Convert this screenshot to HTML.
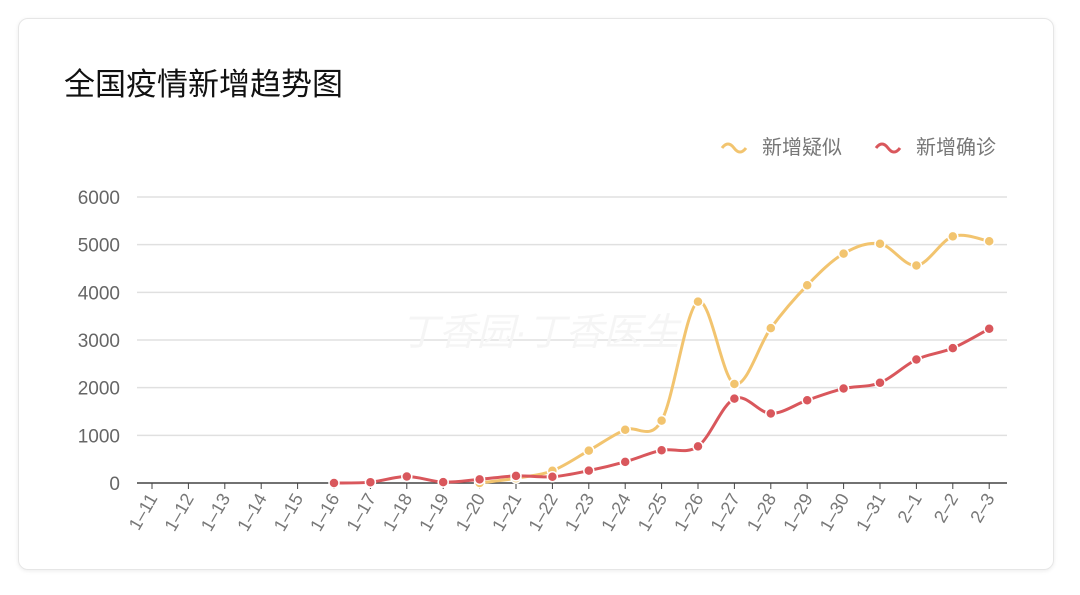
<!DOCTYPE html>
<html><head><meta charset="utf-8"><style>
body{margin:0;background:#fff;width:1080px;height:595px;overflow:hidden;font-family:"Liberation Sans","Noto Sans CJK SC",sans-serif}
.card{position:absolute;left:18px;top:18px;width:1034px;height:550px;border:1px solid #e6e6e6;border-radius:10px;box-shadow:0 1px 4px rgba(0,0,0,0.08)}
.title{position:absolute;left:64px;top:59px;font-size:31px;color:#111;font-family:"Liberation Sans","Noto Sans CJK SC",sans-serif}
svg{position:absolute;left:0;top:0}
</style></head><body>
<div class="card"></div>
<div class="title">全国疫情新增趋势图</div>
<svg id="s" width="1080" height="595" font-family="Liberation Sans, Noto Sans CJK SC, sans-serif"></svg>
<script>
const s=document.getElementById('s');let h='';
const y0=483,k=286/6000,x0=152,st=36.4;
for(let i=0;i<=6;i++){const y=y0-i*1000*k;
 if(i>0)h+=`<line x1="137" x2="1007" y1="${y}" y2="${y}" stroke="#e0e0e0" stroke-width="1.5"/>`;
 h+=`<text x="120" y="${y+7}" text-anchor="end" font-size="19" fill="#666">${i*1000}</text>`;}
h+=`<text x="540" y="345" text-anchor="middle" font-size="38" fill="#f5f5f5" font-style="italic">丁香园·丁香医生</text>`;
h+=`<line x1="137" x2="1007" y1="${y0}" y2="${y0}" stroke="#444" stroke-width="1.5"/>`;
const labs=[];for(let d=11;d<=31;d++)labs.push('1–'+d);labs.push('2–1','2–2','2–3');
labs.forEach((l,i)=>{const x=x0+i*st;
 h+=`<line x1="${x}" x2="${x}" y1="${y0}" y2="${y0+6}" stroke="#444"/>`;
 h+=`<text transform="translate(${x+6},${y0+15}) rotate(-60)" text-anchor="end" font-size="18" fill="#777">${l}</text>`;});
function path(start,d,c){const p=d.map((v,i)=>[x0+(start+i)*st,y0-v*k]);let q=`M${p[0][0]},${p[0][1]}`;
 for(let i=0;i<p.length-1;i++){const a=p[Math.max(i-1,0)],b=p[i],c2=p[i+1],e=p[Math.min(i+2,p.length-1)];
 q+=` C${b[0]+(c2[0]-a[0])/6},${b[1]+(c2[1]-a[1])/6} ${c2[0]-(e[0]-b[0])/6},${c2[1]-(e[1]-b[1])/6} ${c2[0]},${c2[1]}`;}
 let o=`<path d="${q}" fill="none" stroke="${c}" stroke-width="3"/>`;
 p.forEach(pt=>o+=`<circle cx="${pt[0]}" cy="${pt[1]}" r="5" fill="${c}" stroke="#fff" stroke-width="1.5"/>`);return o;}
h+=path(9,[0,100,257,680,1118,1309,3806,2077,3248,4148,4812,5019,4562,5173,5072],'#f2c46f');
h+=path(5,[0,17,136,19,77,149,131,259,444,688,769,1771,1459,1737,1982,2102,2590,2829,3235],'#d9575c');
h+=`<path d="M722,148 q6,-8 12,0 t12,0" fill="none" stroke="#f2c46f" stroke-width="3"/>`;
h+=`<text x="762" y="154" font-size="20" fill="#777">新增疑似</text>`;
h+=`<path d="M876,148 q6,-8 12,0 t12,0" fill="none" stroke="#d9575c" stroke-width="3"/>`;
h+=`<text x="916" y="154" font-size="20" fill="#777">新增确诊</text>`;
s.innerHTML=h;
</script>
</body></html>
